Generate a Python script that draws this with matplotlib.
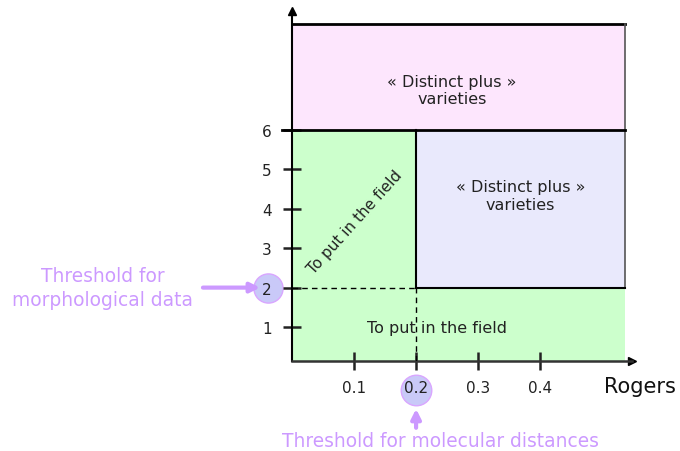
import matplotlib
matplotlib.use("Agg")
import matplotlib.pyplot as plt

# axis values
x_ticks = [0.1, 0.2, 0.3, 0.4]
x_labels = ["0.1", "0.2", "0.3", "0.4"]
y_ticks = [1, 2, 3, 4, 5, 6]
y_labels = ["1", "2", "3", "4", "5", "6"]

# thresholds and region limits
x_thr = 0.2
y_thr = 2
y_top = 6
x_max = 0.537
y_box_top = 8.68
y_min = 0.14

purple = "#cc99ff"
pink = "#fde6fd"
green = "#ccffcc"
lavender = "#e9e9fc"

fig = plt.figure(figsize=(6.8, 4.52), dpi=100)
ax = fig.add_axes([0.4294, 0.199, 0.5, 0.774])
ax.set_xlim(0, 0.548)
ax.set_ylim(y_min, 9.0)

# regions
ax.fill_between([0, x_max], y_top, y_box_top, color=pink, lw=0, zorder=1)
ax.fill_between([0, x_thr], y_min, y_top, color=green, lw=0, zorder=1)
ax.fill_between([x_thr, x_max], y_min, y_thr, color=green, lw=0, zorder=1)
ax.fill_between([x_thr, x_max], y_thr, y_top, color=lavender, lw=0, zorder=1)

# borders
ax.plot([0, x_max], [y_box_top, y_box_top], color="black", lw=2, zorder=3)
ax.plot([x_max, x_max], [y_thr, y_box_top], color="#555555", lw=1.2, zorder=3)
ax.plot([-0.016, x_max], [y_top, y_top], color="black", lw=2, zorder=3, clip_on=False)
ax.plot([x_thr, x_thr], [y_thr, y_top], color="black", lw=1.5, zorder=3)
ax.plot([x_thr, x_max], [y_thr, y_thr], color="black", lw=1.5, zorder=3)
ax.plot([0, x_thr], [y_thr, y_thr], color="black", lw=1, ls=(0, (4, 3)), zorder=3)
ax.plot([x_thr, x_thr], [y_min, y_thr], color="black", lw=1, ls=(0, (4, 3)), zorder=3)

# region texts
ax.text(0.258, 7.0, "« Distinct plus »\nvarieties", ha="center", va="center",
        fontsize=11.5, color="#222222", linespacing=1.2)
ax.text(0.368, 4.33, "« Distinct plus »\nvarieties", ha="center", va="center",
        fontsize=11.5, color="#222222", linespacing=1.2)
ax.text(0.234, 1.0, "To put in the field", ha="center", va="center",
        fontsize=11.5, color="#222222")
ax.text(0.102, 3.68, "To put in the field", ha="center", va="center",
        fontsize=11, color="#222222", rotation=48, rotation_mode="anchor")

# axes
for s in ["top", "right"]:
    ax.spines[s].set_visible(False)
ax.spines["left"].set_linewidth(1.5)
ax.spines["bottom"].set_linewidth(1.8)
ax.spines["bottom"].set_color("#333333")
ax.plot([0], [1], marker="^", color="black", ms=6, transform=ax.transAxes, clip_on=False)
ax.plot([1], [0], marker=">", color="black", ms=6, transform=ax.transAxes, clip_on=False)

ax.set_xticks(x_ticks)
ax.set_xticklabels(x_labels)
ax.set_yticks(y_ticks)
ax.set_yticklabels(y_labels)
ax.tick_params(axis="both", direction="inout", length=13, width=1.8, labelsize=11,
               colors="#222222")
ax.tick_params(axis="x", pad=7)
ax.tick_params(axis="y", pad=8)

ax.text(0.503, -0.5, "Rogers", fontsize=15, ha="left", va="center", color="#111111",
        clip_on=False)

# threshold markers
ax.plot([-0.039], [y_thr], marker="o", ms=21, mfc="#c9c9f8", mec="#d9a6ff", mew=1,
        clip_on=False, zorder=1.1)
ax.plot([x_thr], [-0.6], marker="o", ms=22, mfc="#c9c9f8", mec="#d9a6ff", mew=1,
        clip_on=False, zorder=1.1)

ax.annotate("", xy=(-0.047, y_thr), xytext=(-0.148, y_thr),
            arrowprops=dict(arrowstyle="-|>", color=purple, lw=3, mutation_scale=14),
            annotation_clip=False)
ax.text(-0.305, y_thr, "Threshold for\nmorphological data", ha="center", va="center",
        fontsize=13.4, color=purple, linespacing=1.3, clip_on=False)

ax.annotate("", xy=(x_thr, -1.0), xytext=(x_thr, -1.62),
            arrowprops=dict(arrowstyle="-|>", color=purple, lw=3, mutation_scale=14),
            annotation_clip=False)
ax.text(0.239, -1.87, "Threshold for molecular distances", ha="center", va="center",
        fontsize=13.4, color=purple, clip_on=False)

fig.savefig("out.png", dpi=100)
